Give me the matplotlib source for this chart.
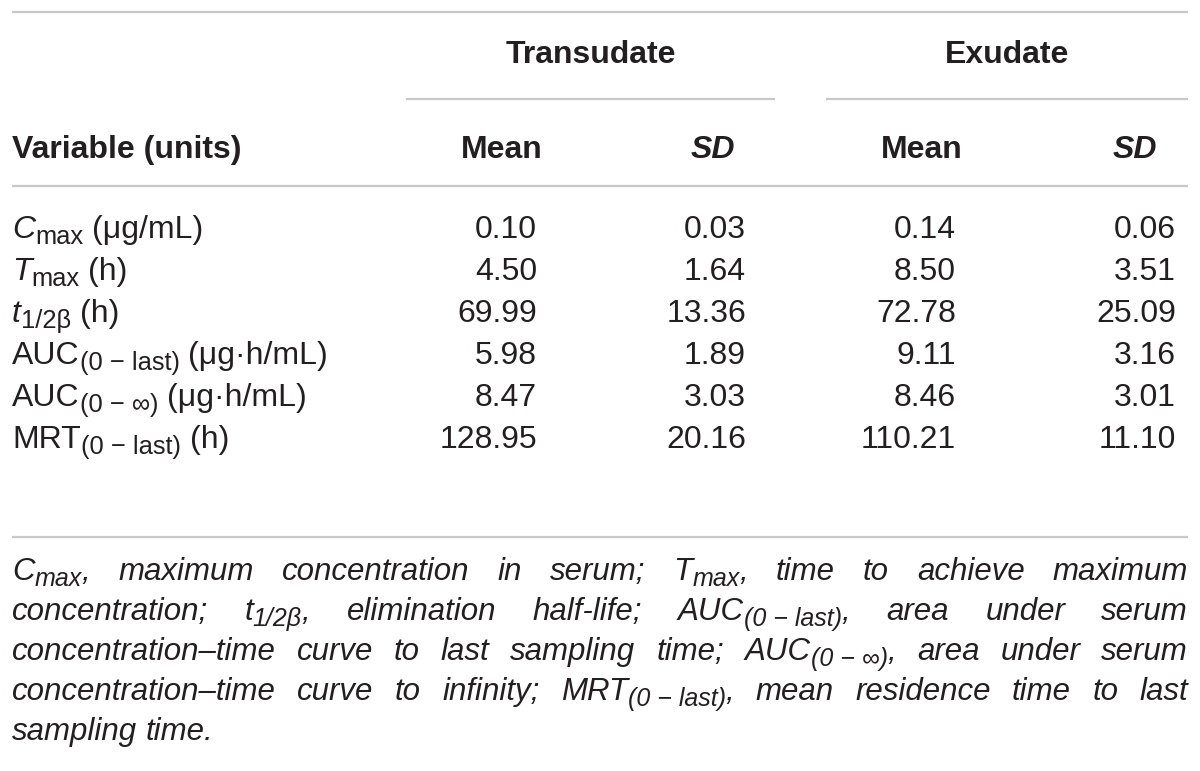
import matplotlib
matplotlib.use("Agg")
import matplotlib.pyplot as plt
from matplotlib import font_manager

# -----------------------------
# data
# -----------------------------
GROUPS = ["Transudate", "Exudate"]
SUB_HEADERS = ["Mean", "SD"]
FIRST_HEADER = "Variable (units)"

# variable labels as runs: (text, style)  r=regular, i=italic, s=subscript, si=italic subscript
VARIABLES = [
    [("C", "i"), ("max", "s"), (" (μg/mL)", "r")],
    [("T", "i"), ("max", "s"), (" (h)", "r")],
    [("t", "i"), ("1/2β", "s"), (" (h)", "r")],
    [("AUC", "r"), ("(0 − last)", "s"), (" (μg·h/mL)", "r")],
    [("AUC", "r"), ("(0 − ∞)", "s"), (" (μg·h/mL)", "r")],
    [("MRT", "r"), ("(0 − last)", "s"), (" (h)", "r")],
]
TRANS_MEAN = [0.10, 4.50, 69.99, 5.98, 8.47, 128.95]
TRANS_SD = [0.03, 1.64, 13.36, 1.89, 3.03, 20.16]
EXU_MEAN = [0.14, 8.50, 72.78, 9.11, 8.46, 110.21]
EXU_SD = [0.06, 3.51, 25.09, 3.16, 3.01, 11.10]

# footnote, one entry per printed line (words; a word may be a list of runs)
FOOTNOTE_LINES = [
    [[("C", "i"), ("max", "si"), (",", "i")], "maximum", "concentration", "in", "serum;",
     [("T", "i"), ("max", "si"), (",", "i")], "time", "to", "achieve", "maximum"],
    ["concentration;", [("t", "i"), ("1/2β", "si"), (",", "i")], "elimination", "half-life;",
     [("AUC", "i"), ("(0 − last)", "si"), (",", "i")], "area", "under", "serum"],
    ["concentration–time", "curve", "to", "last", "sampling", "time;",
     [("AUC", "i"), ("(0 − ∞)", "si"), (",", "i")], "area", "under", "serum"],
    ["concentration–time", "curve", "to", "infinity;",
     [("MRT", "i"), ("(0 − last)", "si"), (",", "i")], "mean", "residence", "time", "to", "last"],
    ["sampling", "time."],
]

# -----------------------------
# style / layout
# -----------------------------
W, H, DPI = 1200, 771, 100
TXT = "#231f20"
RULE = "#c8c8c8"
FAMILY = "Liberation Sans"
names = {f.name for f in font_manager.fontManager.ttflist}
if "Liberation Sans Narrow" in names:
    NOTE_FAMILY, NOTE_SIZE = "Liberation Sans Narrow", 25
else:
    NOTE_FAMILY, NOTE_SIZE = "Liberation Sans", 22.5
SIZE = 23
SUB_RATIO = 0.8
SUB_DROP = 0.2   # baseline drop of subscripts, fraction of font size (px)
LEFT, RIGHT = 12, 1188
ROW_Y0, ROW_DY = 238, 42
COL_RIGHT = [537, 746, 956, 1176]

fig = plt.figure(figsize=(W / DPI, H / DPI), dpi=DPI)
ax = fig.add_axes([0, 0, 1, 1])
ax.set_xlim(0, W)
ax.set_ylim(H, 0)
ax.axis("off")
renderer = fig.canvas.get_renderer()


def props(style, size, family, weight):
    sub = style.startswith("s")
    italic = "i" in style
    return dict(fontsize=size * (SUB_RATIO if sub else 1.0), family=family,
                style="italic" if italic else "normal", weight=weight)


def text_w(s, **kw):
    if not s:
        return 0.0
    t = ax.text(0, 0, s, **kw)
    w = t.get_window_extent(renderer).width
    t.remove()
    return w


def space_w(**kw):
    return text_w("x x", **kw) - text_w("xx", **kw)


def runs_width(runs, size, family, weight="normal"):
    total = 0.0
    for s, st in runs:
        kw = props(st, size, family, weight)
        core = s.strip(" ")
        nlead = len(s) - len(s.lstrip(" "))
        total += nlead * space_w(**kw) + text_w(core, **kw)
    return total


def draw_runs(x, y, runs, size, family, weight="normal"):
    px = size * DPI / 72.0
    for s, st in runs:
        kw = props(st, size, family, weight)
        core = s.strip(" ")
        nlead = len(s) - len(s.lstrip(" "))
        x += nlead * space_w(**kw)
        dy = px * SUB_DROP if st.startswith("s") else 0
        ax.text(x, y + dy, core, va="baseline", ha="left", color=TXT, **kw)
        x += text_w(core, **kw)
    return x


def rule(y, x0=LEFT, x1=RIGHT):
    ax.plot([x0, x1], [y, y], color=RULE, lw=1.6, solid_capstyle="butt")


# rules
rule(12)
rule(99, 406, 775)
rule(99, 826, RIGHT)
rule(186)
rule(537)

# group headers
for name, cx in zip(GROUPS, [591, 1007]):
    ax.text(cx, 63, name, ha="center", va="baseline", fontsize=SIZE,
            family=FAMILY, weight="bold", color=TXT)

# column headers
ax.text(LEFT, 158, FIRST_HEADER, ha="left", va="baseline", fontsize=SIZE,
        family=FAMILY, weight="bold", color=TXT)
for mc, sr in [(502, 735), (922, 1157)]:
    ax.text(mc, 158, SUB_HEADERS[0], ha="center", va="baseline", fontsize=SIZE,
            family=FAMILY, weight="bold", color=TXT)
    ax.text(sr, 158, SUB_HEADERS[1], ha="right", va="baseline", fontsize=SIZE,
            family=FAMILY, weight="bold", style="italic", color=TXT)

# body rows
cols = [TRANS_MEAN, TRANS_SD, EXU_MEAN, EXU_SD]
for i, runs in enumerate(VARIABLES):
    y = ROW_Y0 + i * ROW_DY
    draw_runs(LEFT, y, runs, SIZE, FAMILY)
    for vals, xr in zip(cols, COL_RIGHT):
        ax.text(xr, y, f"{vals[i]:.2f}", ha="right", va="baseline",
                fontsize=SIZE, family=FAMILY, color=TXT)

# footnote, justified
NOTE_Y0, NOTE_DY = 580, 40
for j, words in enumerate(FOOTNOTE_LINES):
    y = NOTE_Y0 + j * NOTE_DY
    wruns = [[(w, "i")] if isinstance(w, str) else w for w in words]
    widths = [runs_width(r, NOTE_SIZE, NOTE_FAMILY) for r in wruns]
    last = j == len(FOOTNOTE_LINES) - 1
    if last or len(wruns) < 2:
        gap = space_w(**props("i", NOTE_SIZE, NOTE_FAMILY, "normal"))
    else:
        gap = (RIGHT - LEFT - sum(widths)) / (len(wruns) - 1)
    x = LEFT
    for r, wd in zip(wruns, widths):
        draw_runs(x, y, r, NOTE_SIZE, NOTE_FAMILY)
        x += wd + gap

fig.savefig("out.png", dpi=DPI, facecolor="white")
